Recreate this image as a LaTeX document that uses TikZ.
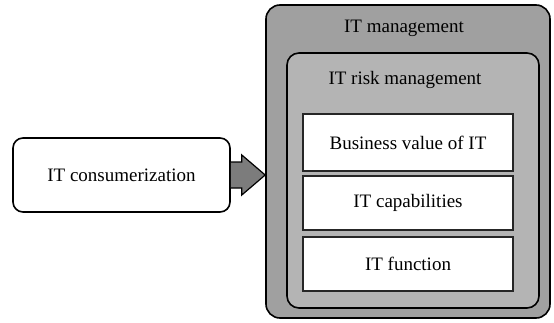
\documentclass[tikz,border=0pt]{standalone}
\usepackage{fontspec}
\setmainfont{Liberation Serif}
\usetikzlibrary{positioning}

\definecolor{outergray}{HTML}{A0A0A0}
\definecolor{innergray}{HTML}{B4B4B4}
\definecolor{arrowgray}{HTML}{7C7C7C}

\tikzset{
  frame/.style={draw=black,line width=1.6pt,rounded corners=14pt,inner sep=0pt},
  itembox/.style={draw=black!85,fill=white,line width=1.8pt,inner sep=0pt,
    minimum width=210pt,font=\fontsize{19}{23}\selectfont},
  txt/.style={font=\fontsize{19}{23}\selectfont,inner sep=0pt}
}

\begin{document}
\begin{tikzpicture}[x=1pt,y=1pt]
\useasboundingbox (0,0) rectangle (554,322);
\node[frame,fill=outergray,minimum width=284pt,minimum height=313pt] (itm) at (408,160.5) {};
\node[frame,fill=innergray,rounded corners=12pt,minimum width=252pt,minimum height=255pt] (risk) at (413,141.5) {};
\node[txt] (itmlabel) at (404,294) {IT management};
\node[txt] (risklabel) at (405,242) {IT risk management};
\node[itembox,minimum height=57pt] (value) at (408,179.5) {Business value of IT};
\node[itembox,minimum height=54pt] (capab) at (408,119) {IT capabilities};
\node[itembox,minimum height=54pt] (func) at (408,58) {IT function};
\node[draw=black,line width=1.6pt,rounded corners=10pt,fill=white,minimum width=217pt,
  minimum height=74pt,txt] (cons) at (121.5,147) {IT consumerization};
\draw[fill=arrowgray,line width=1.2pt,line join=miter]
 ([yshift=-13pt]cons.east) -- ([xshift=11pt,yshift=-13pt]cons.east) -- ([xshift=11pt,yshift=-20pt]cons.east)
 -- (itm.west |- cons.east) -- ([xshift=11pt,yshift=20pt]cons.east) -- ([xshift=11pt,yshift=13pt]cons.east)
 -- ([yshift=13pt]cons.east);
\end{tikzpicture}
\end{document}
